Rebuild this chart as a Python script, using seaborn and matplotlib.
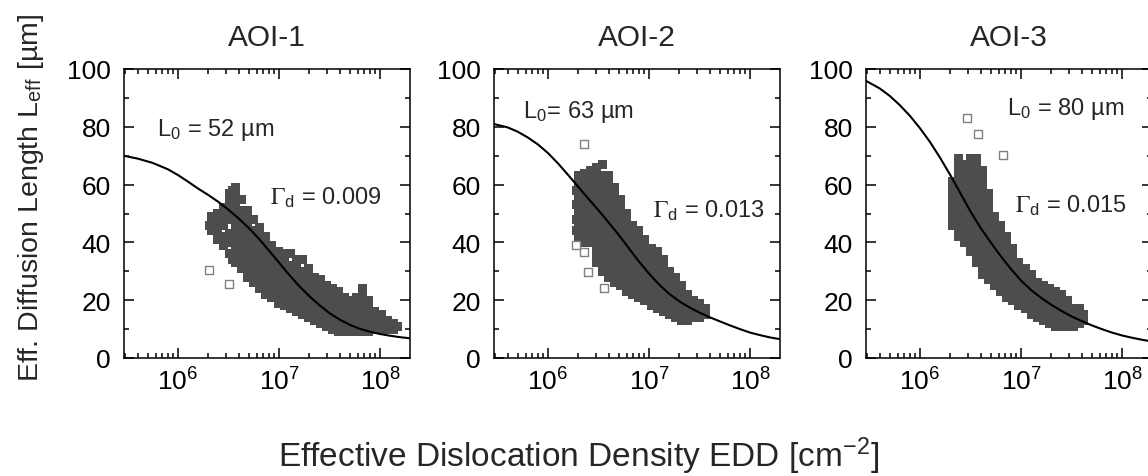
import numpy as np
import pandas as pd
import matplotlib
matplotlib.use("Agg")
import matplotlib.pyplot as plt
import seaborn as sns
from matplotlib.ticker import LogLocator, MultipleLocator, NullFormatter

# ---------------- data ----------------
titles = ["AOI-1", "AOI-2", "AOI-3"]
l0_labels = ["L$_\\mathregular{0}$ = 52 µm", "L$_\\mathregular{0}$= 63 µm", "L$_\\mathregular{0}$ = 80 µm"]
gamma_labels = ["$\\Gamma_\\mathregular{d}$ = 0.009", "$\\Gamma_\\mathregular{d}$ = 0.013", "$\\Gamma_\\mathregular{d}$ = 0.015"]

# measured cloud: key = log10(EDD [cm^-2]), values = L_eff [µm]
aoi1_cloud = {
    6.31: [46], 6.33: [44, 47, 49], 6.39: [41, 44, 47, 50], 6.45: [39, 42, 46, 49, 52],
    6.51: [36, 40, 43, 48, 51, 54, 57],
    6.54: [34, 58],
    6.57: [33, 36, 39, 42, 45, 48, 51, 54, 57, 59],
    6.63: [31, 33, 36, 39, 42, 45, 48, 51, 55],
    6.69: [28, 31, 34, 37, 40, 43, 46, 49, 51],
    6.75: [26, 29, 32, 35, 38, 41, 44, 48],
    6.81: [24, 27, 30, 33, 36, 39, 42, 45],
    6.87: [22, 25, 28, 31, 34, 37, 40, 42],
    6.93: [21, 24, 27, 30, 33, 36, 39],
    6.99: [19, 22, 25, 28, 31, 34, 37],
    7.05: [18, 21, 24, 27, 30, 33, 36],
    7.11: [17, 20, 23, 26, 29, 32, 36],
    7.17: [16, 19, 22, 25, 28, 31, 34],
    7.23: [15, 18, 21, 24, 27, 30, 34],
    7.29: [14, 17, 20, 23, 26, 29, 31],
    7.35: [13, 16, 19, 22, 25, 28],
    7.41: [12, 15, 18, 21, 24, 27],
    7.47: [11, 14, 17, 20, 23, 25],
    7.53: [10, 13, 16, 19, 22, 24],
    7.59: [9, 12, 15, 18, 21, 23],
    7.65: [9, 12, 15, 18, 21],
    7.71: [9, 12, 15, 18, 20],
    7.77: [9, 12, 15, 18, 21],
    7.83: [9, 12, 15, 18, 21, 24],
    7.89: [9, 12, 15, 18, 20],
    7.95: [10, 13, 16], 8.01: [10, 13, 15], 8.07: [10, 13],
    8.13: [10, 12], 8.17: [11],
}
aoi2_cloud = {
    6.28: [44, 48, 53, 58],
    6.30: [42, 45, 48, 51, 54, 57, 60, 63],
    6.36: [40, 43, 46, 49, 52, 55, 58, 61, 64],
    6.42: [40, 43, 46, 49, 52, 55, 58, 61, 63, 65],
    6.48: [33, 36, 39, 42, 45, 48, 51, 54, 57, 60, 63, 66],
    6.54: [30, 33, 36, 39, 42, 45, 48, 51, 54, 57, 60, 63, 67],
    6.60: [28, 31, 34, 37, 40, 43, 46, 49, 52, 55, 58, 61, 63],
    6.66: [26, 29, 32, 35, 38, 41, 44, 47, 50, 53, 56, 59],
    6.72: [25, 28, 31, 34, 37, 40, 43, 46, 49, 52, 55],
    6.78: [23, 26, 29, 32, 35, 38, 41, 44, 47, 50],
    6.84: [22, 25, 28, 31, 34, 37, 40, 43, 46],
    6.90: [21, 24, 27, 30, 33, 36, 39, 42, 44],
    6.96: [20, 23, 26, 29, 32, 35, 38, 41],
    7.02: [18, 21, 24, 27, 30, 33, 36, 38],
    7.08: [17, 20, 23, 26, 29, 32, 35, 37],
    7.14: [16, 19, 22, 25, 28, 31, 34],
    7.20: [15, 18, 21, 24, 27, 30],
    7.26: [14, 17, 20, 23, 26, 28],
    7.32: [13, 16, 19, 22, 25],
    7.38: [13, 16, 19, 22],
    7.44: [14, 17, 20],
    7.50: [14, 17, 19],
    7.56: [15, 17],
}
aoi3_cloud = {
    6.32: [46, 49, 52, 55, 58, 61],
    6.38: [42, 45, 48, 51, 54, 57, 60, 63, 66, 69],
    6.44: [40, 43, 46, 49, 52, 55, 58, 61, 64, 67],
    6.50: [37, 40, 43, 46, 49, 52, 55, 58, 61, 64, 67, 69],
    6.56: [33, 36, 39, 42, 45, 48, 51, 54, 57, 60, 63, 66, 69],
    6.62: [29, 32, 35, 38, 41, 44, 47, 50, 53, 56, 59, 62, 65],
    6.68: [27, 30, 33, 36, 39, 42, 45, 48, 51, 54, 57],
    6.74: [25, 28, 31, 34, 37, 40, 43, 46, 49],
    6.80: [23, 26, 29, 32, 35, 38, 41, 44, 46],
    6.86: [21, 24, 27, 30, 33, 36, 39, 42],
    6.92: [20, 23, 26, 29, 32, 35, 38],
    6.98: [18, 21, 24, 27, 30, 33],
    7.04: [17, 20, 23, 26, 29, 31],
    7.10: [15, 18, 21, 24, 27, 29],
    7.16: [14, 17, 20, 23, 26],
    7.22: [13, 16, 19, 22, 25],
    7.28: [12, 15, 18, 21, 24],
    7.34: [11, 14, 17, 20, 23],
    7.40: [11, 14, 17, 20, 22],
    7.46: [11, 14, 17, 20],
    7.52: [11, 14, 17],
    7.58: [12, 15, 17],
    7.62: [13, 15],
}

# open-square outliers
aoi1_open_edd = [2.03e6, 3.2e6]
aoi1_open_leff = [30.5, 25.6]
aoi2_open_edd = [2.27e6, 1.89e6, 2.27e6, 2.49e6, 3.58e6]
aoi2_open_leff = [74, 39, 36.6, 29.7, 24.2]
aoi3_open_edd = [2.92e6, 3.75e6, 6.62e6]
aoi3_open_leff = [83, 77.5, 70.2]

# fitted curves: log10(EDD) and L_eff
aoi1_fit_logedd = [5.46, 5.6, 5.75, 5.9, 6.0, 6.1, 6.2, 6.3, 6.4, 6.5, 6.6, 6.7, 6.8, 6.9,
                   7.0, 7.1, 7.2, 7.3, 7.4, 7.5, 7.6, 7.7, 7.8, 7.9, 8.0, 8.1, 8.2, 8.3]
aoi1_fit_leff = [70, 69, 67.5, 65.3, 63.3, 61, 58.6, 56.4, 54, 51.3, 48.3, 45, 41.3, 37.2,
                 33, 28.8, 24.9, 21.4, 18.3, 15.5, 13.3, 11.5, 10.1, 9.1, 8.3, 7.7, 7.2, 6.8]
aoi2_fit_logedd = [5.46, 5.6, 5.7, 5.8, 5.9, 6.0, 6.1, 6.2, 6.3, 6.4, 6.5, 6.6, 6.7, 6.8,
                   6.9, 7.0, 7.1, 7.2, 7.3, 7.4, 7.5, 7.6, 7.7, 7.8, 7.9, 8.0, 8.1, 8.2, 8.3]
aoi2_fit_leff = [81, 79.8, 78.3, 76.3, 73.9, 70.9, 67.3, 63.3, 59.2, 55.1, 51.1, 46.9, 42.6,
                 38, 33.4, 29.2, 25.4, 22.2, 19.6, 17.5, 15.7, 14.1, 12.7, 11.3, 10, 8.8,
                 7.9, 7.1, 6.5]
aoi3_fit_logedd = [5.46, 5.6, 5.7, 5.8, 5.9, 6.0, 6.1, 6.2, 6.3, 6.4, 6.5, 6.6, 6.7, 6.8,
                   6.9, 7.0, 7.1, 7.2, 7.3, 7.4, 7.5, 7.6, 7.7, 7.8, 7.9, 8.0, 8.1, 8.2, 8.3]
aoi3_fit_leff = [96, 93.3, 90.7, 87.5, 83.8, 79.5, 74.7, 69.2, 63.3, 57, 50.7, 45, 40, 35.2,
                 30.8, 26.8, 23.5, 20.8, 18.4, 16.3, 14.4, 12.8, 11.3, 10, 8.8, 7.8, 7,
                 6.3, 5.7]

# annotation anchors: (EDD, L_eff) at text baseline start
l0_pos = [(6.2e5, 77), (5.6e5, 83.4), (7.2e6, 84.4)]
gamma_pos = [(8.1e6, 53.3), (1.1e7, 48.8), (8.7e6, 50.5)]

clouds = [aoi1_cloud, aoi2_cloud, aoi3_cloud]
opens = [(aoi1_open_edd, aoi1_open_leff), (aoi2_open_edd, aoi2_open_leff),
         (aoi3_open_edd, aoi3_open_leff)]
fits = [(aoi1_fit_logedd, aoi1_fit_leff), (aoi2_fit_logedd, aoi2_fit_leff),
        (aoi3_fit_logedd, aoi3_fit_leff)]

# ---------------- drawing ----------------
sns.set_theme(style="ticks")
plt.rcParams['font.family'] = ['Liberation Sans', 'DejaVu Sans']
plt.rcParams['mathtext.fontset'] = 'stix'
plt.rcParams['axes.linewidth'] = 1.1

W, H = 1148, 477
fig = plt.figure(figsize=(W / 100, H / 100), dpi=100)
lefts_px = [124, 494, 866]
ax_w, ax_top, ax_bot = 286, 70, 359

for i in range(3):
    ax = fig.add_axes([lefts_px[i] / W, 1 - ax_bot / H, ax_w / W, (ax_bot - ax_top) / H])
    cloud = clouds[i]
    rows = [(10 ** k, v) for k, vals in cloud.items() for v in vals]
    df = pd.DataFrame(rows, columns=["edd", "leff"])
    sns.scatterplot(data=df, x="edd", y="leff", marker="s", s=42, color="#4d4d4d",
                    edgecolor="none", linewidth=0, legend=False, ax=ax, zorder=2)
    oe, ol = opens[i]
    sns.scatterplot(x=oe, y=ol, marker="s", s=28, color="#808080", facecolor="white",
                    edgecolor="#808080", linewidth=1.0, legend=False, ax=ax, zorder=3)
    fe, fl = fits[i]
    fit_df = pd.DataFrame({"edd": [10 ** v for v in fe], "leff": fl})
    sns.lineplot(data=fit_df, x="edd", y="leff", color="black", linewidth=1.5, ax=ax,
                 zorder=4, sort=True)

    ax.set_xscale("log")
    ax.set_xlim(2.92e5, 1.98e8)
    ax.set_ylim(0, 100)
    ax.xaxis.set_major_locator(LogLocator(base=10, numticks=10))
    ax.xaxis.set_minor_locator(LogLocator(base=10, subs=np.arange(2, 10), numticks=30))
    ax.xaxis.set_minor_formatter(NullFormatter())
    ax.set_xticks([1e6, 1e7, 1e8])
    ax.yaxis.set_major_locator(MultipleLocator(20))
    ax.yaxis.set_minor_locator(MultipleLocator(10))
    ax.tick_params(which="both", direction="in", top=True, right=True, width=1.1,
                   labelsize=19, colors="black")
    ax.tick_params(which="major", length=7)
    ax.tick_params(which="minor", length=3.5)
    ax.tick_params(axis="x", which="major", pad=7)
    ax.tick_params(axis="y", which="major", pad=9.5)
    for sp in ax.spines.values():
        sp.set_visible(True)
        sp.set_color("black")
    ax.set_xlabel("")
    ax.set_ylabel("")
    ax.set_title(titles[i], fontsize=21.5, pad=17)

    ax.text(l0_pos[i][0], l0_pos[i][1], l0_labels[i], fontsize=17, ha="left",
            va="baseline", zorder=5)
    ax.text(gamma_pos[i][0], gamma_pos[i][1], gamma_labels[i], fontsize=17, ha="left",
            va="baseline", zorder=5)

fig.text(0.027, 0.585, "Eff. Diffusion Length L$_\\mathregular{eff}$ [µm]", rotation=90,
         ha="center", va="center", fontsize=20.5)
fig.text(0.504, 0.022, "Effective Dislocation Density EDD [cm$^\\mathregular{-2}$]",
         ha="center", va="baseline", fontsize=24)

fig.savefig("out.png", dpi=100)
